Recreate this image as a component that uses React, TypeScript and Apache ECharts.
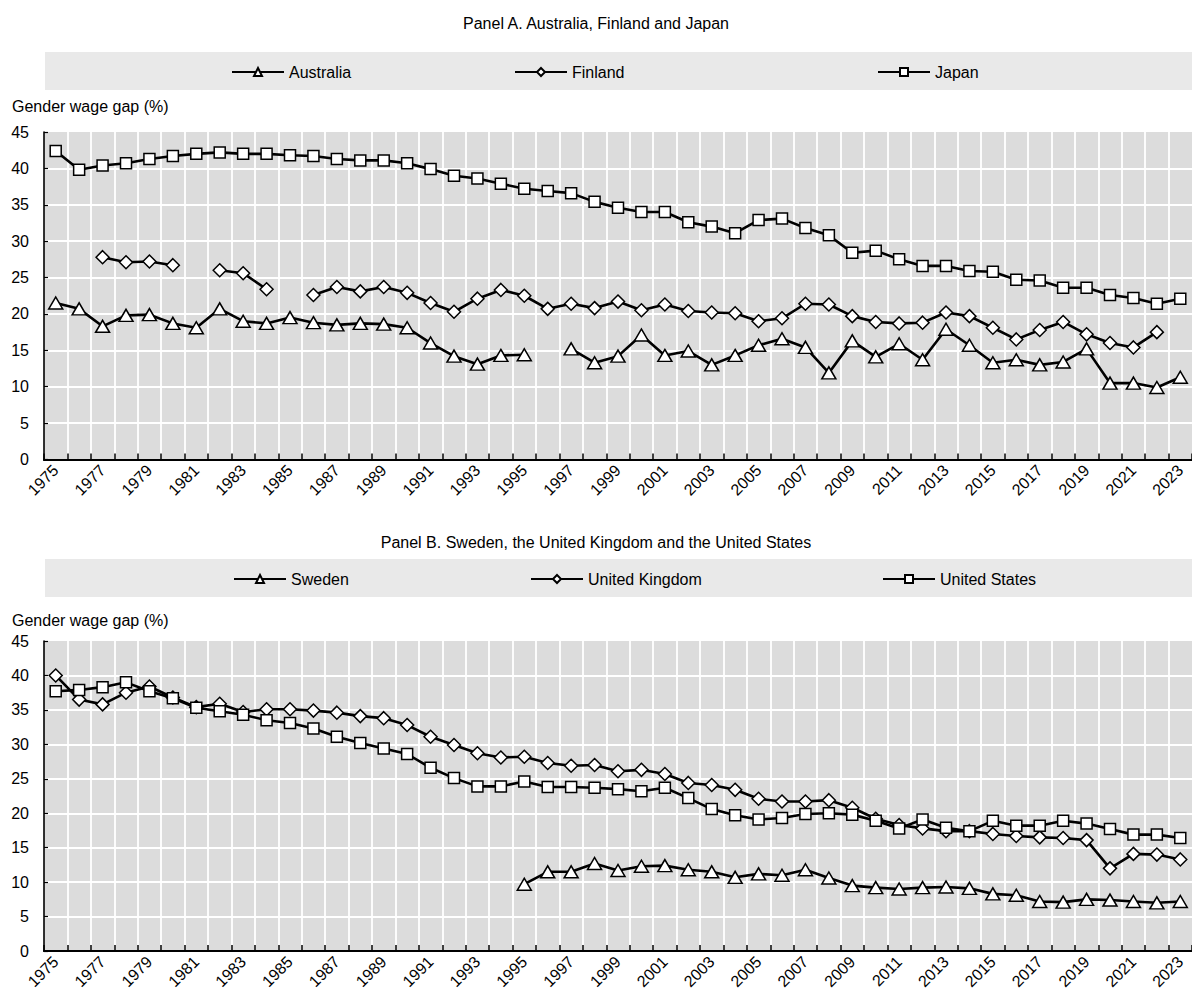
import React, { useEffect, useRef } from "react";
import * as echarts from "echarts";

const years = [
  "1975","1976","1977","1978","1979","1980","1981","1982","1983","1984",
  "1985","1986","1987","1988","1989","1990","1991","1992","1993","1994",
  "1995","1996","1997","1998","1999","2000","2001","2002","2003","2004",
  "2005","2006","2007","2008","2009","2010","2011","2012","2013","2014",
  "2015","2016","2017","2018","2019","2020","2021","2022","2023",
];

const australia = [
  21.5, 20.7, 18.3, 19.8, 19.9, 18.7, 18.1, 20.7, 19.0, 18.7, 19.5, 18.8, 18.5, 18.7, 18.6, 18.1, 16.0,
  14.2, 13.1, 14.3, 14.4, null, 15.2, 13.3, 14.2, 17.1, 14.3, 14.9, 13.0, 14.3, 15.7, 16.6,
  15.4, 11.9, 16.3, 14.1, 15.9, 13.7, 17.9, 15.7, 13.3, 13.7, 13.0, 13.4, 15.2, 10.5, 10.5, 9.9, 11.3,
];
const finland = [
  null, null, 27.8, 27.1, 27.2, 26.7, null, 26.0, 25.6, 23.4, null, 22.6, 23.7, 23.1, 23.7, 22.9, 21.5,
  20.3, 22.1, 23.3, 22.5, 20.7, 21.4, 20.8, 21.7, 20.5, 21.3, 20.4, 20.2, 20.1, 19.0, 19.4,
  21.4, 21.3, 19.7, 18.9, 18.7, 18.8, 20.2, 19.7, 18.1, 16.5, 17.8, 18.9, 17.2, 16.0, 15.4, 17.5, null,
];
const japan = [
  42.4, 39.8, 40.4, 40.7, 41.3, 41.7, 42.0, 42.2, 42.0, 42.0, 41.8, 41.7, 41.3, 41.1, 41.1, 40.7, 39.9,
  39.0, 38.6, 37.9, 37.2, 36.9, 36.6, 35.4, 34.6, 34.0, 34.0, 32.6, 32.0, 31.1, 32.9, 33.1,
  31.8, 30.8, 28.4, 28.7, 27.5, 26.6, 26.6, 25.9, 25.8, 24.7, 24.6, 23.6, 23.6, 22.6, 22.2, 21.4, 22.1,
];
const sweden = [
  null, null, null, null, null, null, null, null, null, null, null, null, null, null, null, null, null,
  null, null, null, 9.7, 11.5, 11.5, 12.7, 11.7, 12.3, 12.4, 11.8, 11.5, 10.7, 11.2, 11.0,
  11.8, 10.6, 9.5, 9.2, 9.0, 9.2, 9.3, 9.1, 8.3, 8.1, 7.2, 7.1, 7.5, 7.4, 7.2, 7.0, 7.2,
];
const unitedKingdom = [
  40.0, 36.5, 35.8, 37.5, 38.4, 36.8, 35.4, 35.9, 34.7, 35.1, 35.1, 34.9, 34.6, 34.1, 33.8, 32.8, 31.1,
  29.9, 28.7, 28.1, 28.2, 27.3, 26.9, 27.0, 26.1, 26.3, 25.7, 24.4, 24.1, 23.4, 22.1, 21.7,
  21.7, 21.9, 20.8, 19.2, 18.3, 17.8, 17.4, 17.4, 17.0, 16.7, 16.5, 16.4, 16.1, 12.0, 14.1, 14.0, 13.3,
];
const unitedStates = [
  37.7, 37.9, 38.3, 39.0, 37.7, 36.7, 35.3, 34.8, 34.3, 33.5, 33.1, 32.3, 31.1, 30.2, 29.4, 28.6, 26.6,
  25.1, 23.9, 23.9, 24.6, 23.8, 23.8, 23.7, 23.5, 23.2, 23.7, 22.2, 20.6, 19.7, 19.1, 19.3,
  19.9, 20.0, 19.8, 18.9, 17.8, 19.1, 17.9, 17.4, 18.9, 18.2, 18.2, 18.9, 18.5, 17.7, 16.9, 16.9, 16.4,
];

const panelTitles = [
  "Panel A. Australia, Finland and Japan",
  "Panel B. Sweden, the United Kingdom and the United States",
];
const yAxisName = "Gender wage gap (%)";

const FONT = '"Liberation Sans Narrow", "Arial Narrow", "Liberation Sans", Arial, sans-serif';
const FS = 16;

export default function App() {
  const ref = useRef<HTMLDivElement>(null);

  useEffect(() => {
    if (!ref.current) return;
    const chart = echarts.init(ref.current, undefined, { renderer: "svg" });

    const grids = [
      { left: 44, top: 132, width: 1155, height: 327.5 },
      { left: 44, top: 641, width: 1155, height: 312 },
    ];

    const xAxes: any[] = [];
    const yAxes: any[] = [];
    grids.forEach((_, gi) => {
      xAxes.push({
        type: "category", gridIndex: gi, data: years, boundaryGap: true, position: "bottom", z: 3,
        axisLine: { show: true, lineStyle: { color: "#000", width: 2.2 } },
        axisTick: { show: true, inside: true, length: 6, interval: 0, lineStyle: { color: "#000", width: 1.5 } },
        axisLabel: { interval: 1, rotate: 45, color: "#000", fontSize: FS, fontFamily: FONT, margin: 8 },
        splitLine: { show: false },
      });
      xAxes.push({
        type: "category", gridIndex: gi, data: years, boundaryGap: true, position: "top", z: 3,
        axisLine: { show: true, lineStyle: { color: "#000", width: 1.6 } },
        axisTick: { show: false }, axisLabel: { show: false }, splitLine: { show: false },
      });
      xAxes.push({
        type: "category", gridIndex: gi, data: years, boundaryGap: true, position: "bottom", z: 1,
        axisLine: { show: false }, axisTick: { show: false }, axisLabel: { show: false },
        splitLine: { show: true, interval: 0, showMinLine: false, showMaxLine: false, lineStyle: { color: "#ffffff", width: 1.8 } },
      });
      yAxes.push({
        type: "value", gridIndex: gi, min: 0, max: 45, interval: 5, z: 3,
        axisLine: { show: true, lineStyle: { color: "#000", width: 1.6 } },
        axisTick: { show: true, inside: true, length: 4, lineStyle: { color: "#000", width: 1.2 } },
        axisLabel: { color: "#000", fontSize: FS, fontFamily: FONT, margin: 15 },
        splitLine: { show: false },
      });
      yAxes.push({
        type: "value", gridIndex: gi, min: 0, max: 45, interval: 5, z: 1,
        axisLine: { show: false }, axisTick: { show: false }, axisLabel: { show: false },
        splitLine: { show: true, showMinLine: false, showMaxLine: false, lineStyle: { color: "#ffffff", width: 1.8 } },
      });
    });

    const mk = (name: string, data: (number | null)[], gi: number, symbol: string, size: number[]) => ({
      name, type: "line", data, xAxisIndex: gi * 3, yAxisIndex: gi * 2,
      symbol, symbolSize: size, showSymbol: true, connectNulls: false,
      lineStyle: { color: "#000", width: 2.6 },
      itemStyle: { color: "#ffffff", borderColor: "#000", borderWidth: 1.5 },
      emphasis: { disabled: true },
    });

    const legendBase = {
      orient: "horizontal", itemWidth: 52, itemHeight: 10,
      textStyle: { fontSize: FS, color: "#000", fontFamily: FONT },
      selectedMode: false,
    };

    chart.setOption({
      animation: false,
      backgroundColor: "#ffffff",
      title: [
        { text: panelTitles[0], left: "center", top: 10, textStyle: { fontSize: FS, fontWeight: "normal", color: "#000", fontFamily: FONT } },
        { text: panelTitles[1], left: "center", top: 529, textStyle: { fontSize: FS, fontWeight: "normal", color: "#000", fontFamily: FONT } },
      ],
      graphic: [
        { type: "rect", shape: { x: 45, y: 52, width: 1170, height: 38 }, style: { fill: "#e9e9e9" }, silent: true, z: -1 },
        { type: "rect", shape: { x: 45, y: 559, width: 1170, height: 38 }, style: { fill: "#e9e9e9" }, silent: true, z: -1 },
        { type: "text", left: 12, top: 98, style: { text: yAxisName, fontSize: FS, fontFamily: FONT, fill: "#000" } },
        { type: "text", left: 12, top: 612, style: { text: yAxisName, fontSize: FS, fontFamily: FONT, fill: "#000" } },
      ],
      legend: [
        { ...legendBase, data: ["Australia"], left: 226, top: 59 },
        { ...legendBase, data: ["Finland"], left: 509, top: 59 },
        { ...legendBase, data: ["Japan"], left: 872, top: 59 },
        { ...legendBase, data: ["Sweden"], left: 228, top: 566 },
        { ...legendBase, data: ["United Kingdom"], left: 525, top: 566 },
        { ...legendBase, data: ["United States"], left: 877, top: 566 },
      ],
      grid: grids.map((g) => ({ ...g, show: true, backgroundColor: "#dcdcdc", borderWidth: 0 })),
      xAxis: xAxes,
      yAxis: yAxes,
      series: [
        mk("Australia", australia, 0, "triangle", [14, 12]),
        mk("Finland", finland, 0, "diamond", [13, 13]),
        mk("Japan", japan, 0, "rect", [11, 11]),
        mk("Sweden", sweden, 1, "triangle", [14, 12]),
        mk("United Kingdom", unitedKingdom, 1, "diamond", [13, 13]),
        mk("United States", unitedStates, 1, "rect", [11, 11]),
      ],
    });

    return () => chart.dispose();
  }, []);

  return (
    <div
      ref={ref}
      style={{ position: "absolute", left: 0, top: 0, width: 1192, height: 992, overflow: "hidden" }}
    />
  );
}
